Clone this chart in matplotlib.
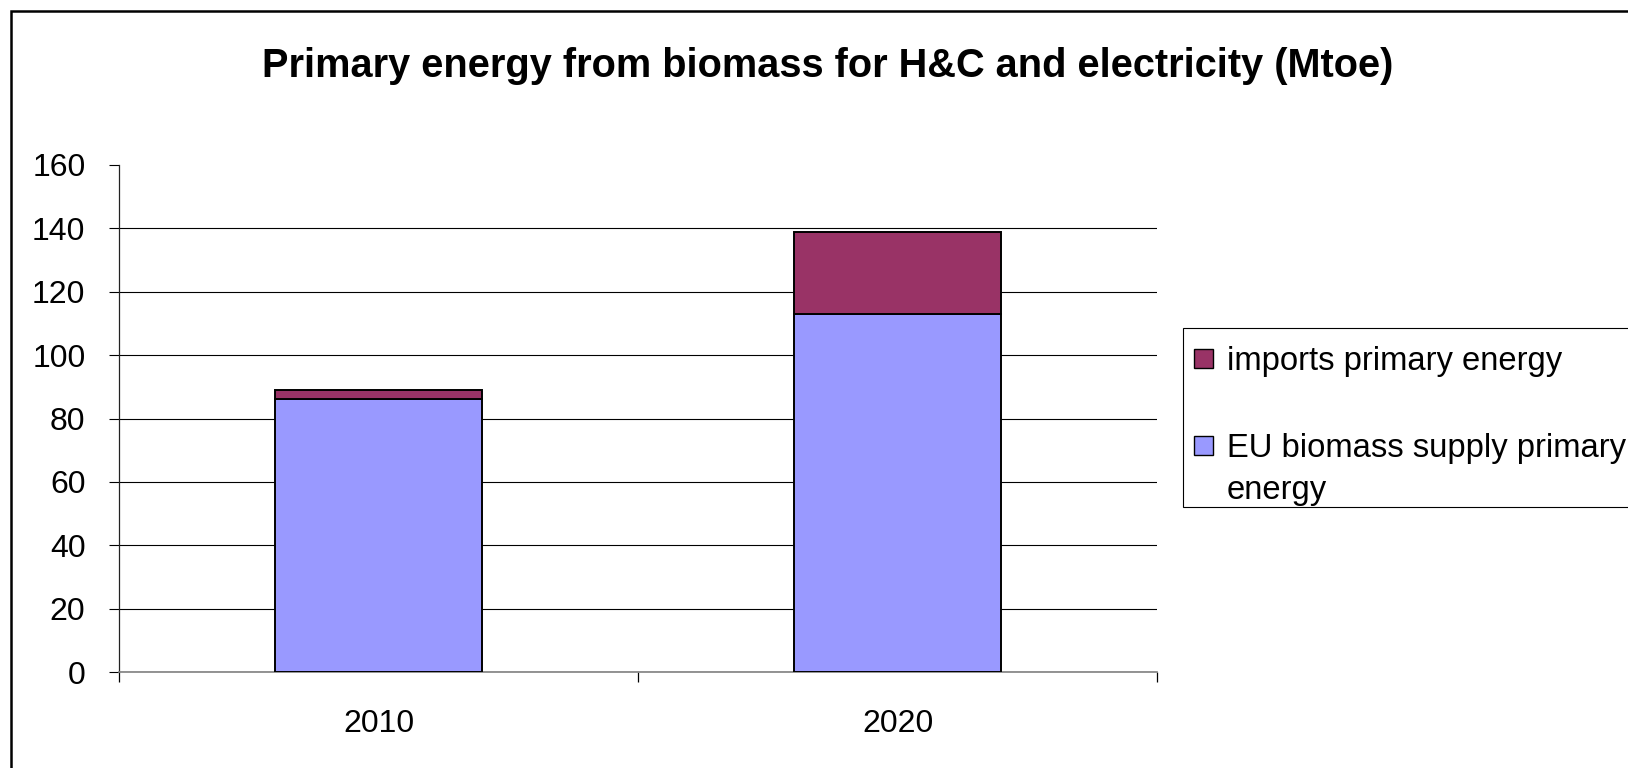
import matplotlib
matplotlib.use("Agg")
import matplotlib.pyplot as plt
from matplotlib.patches import Rectangle

# Data (Mtoe)
years = ["2010", "2020"]
eu_supply = [86, 113]
imports = [3, 26]
series_names = ["EU biomass supply primary\nenergy", "imports primary energy"]
series_colors = ["#9999FF", "#993366"]
y_ticks = [0, 20, 40, 60, 80, 100, 120, 140, 160]
title = "Primary energy from biomass for H&C and electricity (Mtoe)"

plt.rcParams["font.family"] = ["Liberation Sans", "DejaVu Sans"]
FS = 23
LEG_FS = 23.6

W, H = 1628, 768
fig = plt.figure(figsize=(W / 100, H / 100), dpi=100)
fig.patch.set_facecolor("white")


def fx(px):
    return px / W


def fy(py):
    return 1 - py / H


ax = fig.add_axes([fx(119), fy(672), fx(1157) - fx(119), fy(165) - fy(672)])

x = list(range(len(years)))
ax.bar(x, eu_supply, width=0.4, color=series_colors[0], edgecolor="black",
       linewidth=1.4, zorder=3)
ax.bar(x, imports, width=0.4, bottom=eu_supply, color=series_colors[1],
       edgecolor="black", linewidth=1.4, zorder=3)

ax.set_xlim(-0.5, len(years) - 0.5)
ax.set_ylim(y_ticks[0], y_ticks[-1])
ax.set_yticks(y_ticks)
ax.set_yticklabels([str(v) for v in y_ticks], fontsize=FS)
ax.set_xticks(x)
ax.set_xticklabels(years, fontsize=FS)
ax.set_xticks([i - 0.5 for i in range(len(years) + 1)], minor=True)

ax.tick_params(axis="y", direction="out", length=7.2, width=0.8, pad=17,
               color="black")
ax.tick_params(axis="x", which="major", length=0, pad=27)
ax.tick_params(axis="x", which="minor", direction="out", length=7.2,
               width=0.9, color="black")

ax.yaxis.grid(True, color="black", linewidth=0.8, zorder=0)
ax.set_axisbelow(True)
ax.yaxis.get_gridlines()[-1].set_visible(False)

for s in ("top", "right"):
    ax.spines[s].set_visible(False)
ax.spines["left"].set_color("#222222")
ax.spines["left"].set_linewidth(0.9)
ax.spines["bottom"].set_color("#808080")
ax.spines["bottom"].set_linewidth(1.2)

fig.text(fx(828), fy(66), title, ha="center", va="center",
         fontsize=28.6, fontweight="bold")

# Legend box (runs off the right edge of the canvas)
fig.patches.append(Rectangle((fx(1183), fy(507)), fx(600), fy(328) - fy(507),
                             transform=fig.transFigure, facecolor="white",
                             edgecolor="black", linewidth=0.8, zorder=5))
sq = 19
entries = [(series_names[1], series_colors[1], 358),
           (series_names[0], series_colors[0], 445)]
for label, color, cy in entries:
    fig.patches.append(Rectangle((fx(1194), fy(cy + sq / 2)), fx(sq),
                                 fy(cy - sq / 2) - fy(cy + sq / 2),
                                 transform=fig.transFigure, facecolor=color,
                                 edgecolor="black", linewidth=1.0, zorder=6))
    lines = label.split("\n")
    for k, line in enumerate(lines):
        fig.text(fx(1227), fy(cy + 42 * k), line, ha="left",
                 va="center_baseline", fontsize=LEG_FS, zorder=7)

# Outer chart border (extends past the right and bottom edges)
fig.patches.append(Rectangle((fx(11), -0.1), 1.2, fy(11) + 0.1,
                             transform=fig.transFigure, facecolor="none",
                             edgecolor="black", linewidth=1.8, zorder=8))

fig.savefig("out.png", dpi=100, facecolor="white")
